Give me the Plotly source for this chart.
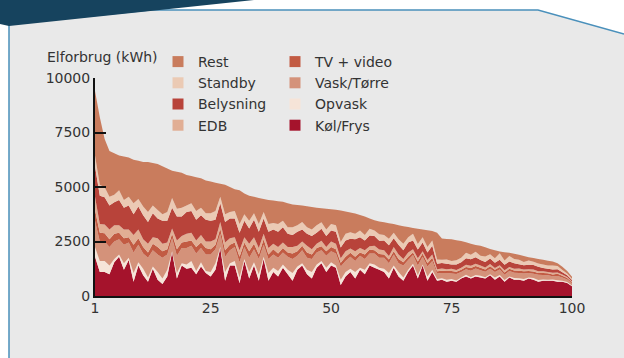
import plotly.graph_objects as go

households = list(range(1, 101))

kol_frys = [1800, 1100, 1100, 1000, 1550, 1800, 1200, 1650, 650, 1400,
            950, 650, 1250, 750, 550, 900, 2000, 800, 1400, 1250,
            1300, 1000, 1350, 1050, 900, 1200, 2200, 700, 1400, 1400,
            600, 1600, 800, 1400, 700, 1700, 700, 1100, 900, 1300,
            1000, 700, 1200, 1400, 1000, 800, 1300, 1500, 1100, 1400,
            1300, 500, 900, 1100, 800, 1200, 1000, 1400, 1300, 1200,
            1100, 800, 1300, 900, 700, 1100, 1400, 800, 1400, 700,
            1100, 700, 750, 650, 700, 650, 800, 900, 800, 900,
            850, 800, 950, 750, 900, 650, 850, 750, 750, 700,
            800, 750, 650, 700, 700, 700, 650, 650, 600, 450]

opvask = [450, 500, 500, 400, 150, 100, 300, 100, 400, 150,
          300, 200, 100, 350, 250, 300, 50, 250, 100, 200,
          300, 150, 200, 100, 200, 300, 50, 400, 100, 200,
          250, 100, 300, 150, 300, 100, 350, 200, 250, 150,
          200, 350, 150, 100, 200, 300, 150, 100, 200, 150,
          100, 250, 200, 150, 300, 100, 200, 100, 150, 100,
          150, 250, 100, 200, 150, 100, 80, 150, 50, 200,
          100, 80, 60, 100, 80, 60, 50, 80, 60, 60,
          80, 60, 50, 100, 60, 80, 50, 70, 60, 80,
          50, 70, 80, 60, 50, 60, 70, 50, 40, 30]

vask_torre = [1200, 900, 900, 850, 800, 700, 850, 700, 950, 800,
              700, 900, 750, 800, 950, 700, 600, 800, 700, 750,
              700, 800, 650, 750, 800, 650, 600, 700, 600, 650,
              700, 550, 650, 600, 700, 550, 650, 600, 600, 550,
              600, 650, 500, 600, 550, 600, 550, 500, 550, 500,
              550, 600, 500, 550, 500, 550, 500, 450, 500, 450,
              500, 450, 500, 400, 550, 450, 400, 450, 350, 450,
              400, 250, 250, 300, 250, 300, 250, 250, 300, 300,
              250, 250, 250, 250, 250, 250, 250, 250, 250, 250,
              200, 200, 250, 200, 200, 150, 200, 150, 120, 100]

tv_video = [500, 400, 380, 350, 350, 300, 300, 250, 350, 300,
            300, 250, 300, 350, 300, 250, 200, 300, 250, 300,
            250, 300, 250, 300, 250, 200, 250, 300, 250, 200,
            250, 200, 300, 250, 200, 250, 200, 250, 200, 200,
            200, 250, 200, 200, 250, 200, 200, 180, 200, 200,
            200, 180, 200, 180, 200, 150, 200, 180, 150, 180,
            150, 180, 150, 200, 150, 150, 120, 180, 150, 150,
            150, 100, 100, 100, 120, 100, 100, 100, 130, 120,
            120, 100, 120, 100, 120, 100, 100, 100, 100, 100,
            100, 100, 80, 100, 90, 80, 100, 80, 60, 50]

edb = [600, 400, 400, 450, 400, 350, 400, 350, 450, 400,
       350, 400, 300, 400, 350, 300, 250, 400, 300, 350,
       350, 300, 350, 300, 350, 250, 300, 350, 300, 250,
       300, 250, 350, 300, 300, 250, 300, 250, 300, 250,
       250, 300, 250, 200, 300, 250, 200, 250, 200, 250,
       250, 200, 250, 200, 250, 200, 200, 150, 200, 200,
       200, 150, 200, 200, 150, 200, 150, 150, 100, 150,
       150, 100, 100, 80, 100, 80, 100, 100, 100, 100,
       100, 100, 100, 80, 80, 100, 80, 80, 100, 80,
       80, 100, 80, 80, 60, 80, 60, 60, 50, 40]

belysning = [1400, 1300, 1250, 1100, 1050, 1150, 1000, 1100, 950, 1050,
             1100, 1000, 1100, 900, 1050, 1000, 950, 1100, 900, 1000,
             1000, 950, 900, 1000, 950, 900, 850, 950, 900, 850,
             800, 750, 700, 800, 750, 700, 750, 650, 700, 700,
             600, 550, 650, 550, 550, 600, 500, 550, 500, 500,
             550, 500, 500, 450, 550, 500, 450, 500, 450, 400,
             450, 500, 400, 450, 400, 450, 400, 400, 400, 350,
             400, 250, 250, 250, 200, 250, 250, 300, 300, 300,
             250, 250, 250, 250, 250, 250, 250, 250, 200, 200,
             200, 200, 200, 150, 150, 150, 150, 100, 80, 60]

standby = [500, 500, 460, 400, 350, 450, 350, 400, 500, 350,
           400, 450, 350, 400, 300, 400, 450, 350, 400, 300,
           350, 400, 350, 300, 350, 400, 300, 350, 300, 350,
           400, 300, 350, 300, 350, 300, 350, 300, 350, 300,
           300, 350, 300, 350, 300, 300, 350, 300, 300, 300,
           300, 250, 300, 300, 250, 300, 250, 300, 250, 300,
           250, 300, 250, 250, 300, 250, 300, 250, 250, 250,
           250, 200, 150, 200, 150, 200, 200, 250, 200, 250,
           200, 250, 200, 200, 300, 200, 250, 200, 200, 150,
           200, 150, 150, 150, 150, 180, 150, 100, 80, 60]

rest = [2950, 3100, 2210, 2100, 1900, 1600, 2000, 1800, 2000, 1750,
        2050, 2300, 1950, 2100, 2200, 2000, 1250, 1700, 1600, 1400,
        1250, 1550, 1350, 1500, 1450, 1300, 600, 1350, 1150, 1000,
        1550, 950, 1150, 750, 1200, 600, 1100, 1030, 1050, 870,
        1100, 1050, 920, 750, 970, 1030, 800, 640, 950, 680,
        710, 1440, 1030, 900, 930, 720, 850, 480, 480, 590,
        580, 710, 400, 650, 800, 460, 270, 700, 350, 770,
        430, 1220, 980, 940, 1000, 920, 770, 480, 510, 310,
        450, 430, 240, 370, 80, 380, 150, 240, 230, 280,
        150, 170, 210, 220, 220, 180, 120, 150, 120, 90]

# bottom-to-top stacking order
series = [
    ("Køl/Frys", kol_frys, "#a5132c"),
    ("Opvask", opvask, "#f6e4d8"),
    ("Vask/Tørre", vask_torre, "#d4927a"),
    ("TV + video", tv_video, "#c25b43"),
    ("EDB", edb, "#e1ae94"),
    ("Belysning", belysning, "#b8433a"),
    ("Standby", standby, "#ebcab4"),
    ("Rest", rest, "#c97c5d"),
]
legend1_names = ["Rest", "Standby", "Belysning", "EDB"]
legend2_names = ["TV + video", "Vask/Tørre", "Opvask", "Køl/Frys"]
x_ticks = [1, 25, 50, 75, 100]
y_ticks = [0, 2500, 5000, 7500, 10000]

W, H = 624, 358
ML, MR, MT, MB = 95, 52, 78, 62
PW, PH = W - ML - MR, H - MT - MB


def px(x):
    return (x - ML) / PW


def py(y):
    return (H - MB - y) / PH


FONT = "DejaVu Sans"
fig = go.Figure()
for name, vals, col in series:
    fig.add_trace(go.Scatter(
        x=households, y=vals, name=name, stackgroup="one", mode="none",
        fillcolor=col, line=dict(width=0), showlegend=False,
        hovertemplate=name + ": %{y}<extra></extra>"))

colors = {n: c for n, _, c in series}
for name in legend1_names:
    fig.add_trace(go.Scatter(x=[None], y=[None], mode="markers", name=name,
                             marker=dict(symbol="square", size=11, color=colors[name]),
                             legend="legend"))
for name in legend2_names:
    fig.add_trace(go.Scatter(x=[None], y=[None], mode="markers", name=name,
                             marker=dict(symbol="square", size=11, color=colors[name]),
                             legend="legend2"))

panel = (f"M {px(9)} {py(358)} L {px(9)} {py(24)} L {px(150)} {py(10)} "
         f"L {px(538)} {py(10)} L {px(624)} {py(34)} L {px(624)} {py(358)} Z")
border = (f"M {px(9)} {py(358)} L {px(9)} {py(24)} L {px(150)} {py(10)} "
          f"L {px(538)} {py(10)} L {px(624)} {py(34)}")
band = (f"M {px(0)} {py(0)} L {px(254)} {py(0)} L {px(9)} {py(26)} "
        f"L {px(0)} {py(24)} Z")

legend_common = dict(xanchor="left", yanchor="top", bgcolor="rgba(0,0,0,0)",
                     font=dict(size=14, color="#333333"), tracegroupgap=0,
                     traceorder="normal", orientation="v")

fig.update_layout(
    width=W, height=H,
    margin=dict(l=ML, r=MR, t=MT, b=MB, pad=0, autoexpand=False),
    paper_bgcolor="white", plot_bgcolor="rgba(0,0,0,0)",
    font=dict(family=FONT, size=14, color="#333333"),
    shapes=[
        dict(type="path", path=panel, xref="paper", yref="paper",
             fillcolor="#e9e9e9", line=dict(width=0), layer="below"),
        dict(type="path", path=border, xref="paper", yref="paper",
             line=dict(color="#4a90bb", width=1.5), layer="below"),
        dict(type="path", path=band, xref="paper", yref="paper",
             fillcolor="#16435e", line=dict(width=0), layer="below"),
    ],
    annotations=[dict(text="Elforbrug (kWh)", x=px(45), y=py(57), xref="paper", yref="paper",
                      xanchor="left", yanchor="middle", showarrow=False,
                      font=dict(family=FONT, size=14, color="#333333"))],
    xaxis=dict(range=[1, 100], tickvals=x_ticks, ticks="", showgrid=False,
               zeroline=False, showline=True, linecolor="#111111", linewidth=2,
               tickfont=dict(size=14, color="#333333"), ticklabelstandoff=-2),
    yaxis=dict(range=[0, 10000], tickvals=y_ticks, tickformat="d", ticks="inside",
               ticklen=11, tickwidth=2, tickcolor="#111111", showgrid=False,
               zeroline=False, showline=True, linecolor="#111111", linewidth=2,
               tickfont=dict(size=14, color="#333333")),
    legend=dict(x=px(158), y=py(46), **legend_common),
    legend2=dict(x=px(275), y=py(46), **legend_common),
)

fig.write_html("out.html", config={"displayModeBar": False},
               post_script="document.body.style.margin='0';document.body.style.overflow='hidden';")
